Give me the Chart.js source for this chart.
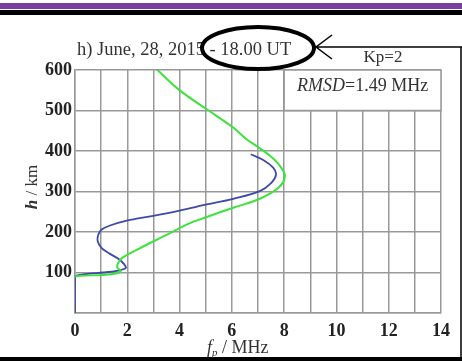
<!DOCTYPE html>
<html>
<head>
<meta charset="utf-8">
<script src="https://cdn.jsdelivr.net/npm/chart.js@4.4.1/dist/chart.umd.min.js"></script>
<style>
  html, body { margin: 0; padding: 0; background: #fff; }
  canvas { display: block; }
</style>
</head>
<body>
<canvas id="chart" width="462" height="361"></canvas>
<script>
// measured profile (blue) and model profile (green): plasma frequency vs height
const blueFreq   = [0, 0, 0.19, 0.57, 1.08, 1.6, 1.85, 1.95, 1.72, 1.34, 1.02, 0.87, 0.89, 1.02, 1.34, 1.98, 2.99, 4.0, 5.04, 6.05, 7.07, 7.52, 7.69, 7.58, 7.2, 6.72];
const blueHeight = [0, 89, 94, 97, 100, 104, 108, 113, 131, 146, 160, 177, 193, 206, 216, 228, 240, 253, 268, 282, 301, 322, 342, 359, 378, 392];

const greenFreq   = [0, 0.2, 1.08, 1.6, 1.75, 1.62, 1.64, 1.8, 2.36, 3.38, 4.4, 5.04, 6.05, 7.07, 7.78, 8.03, 7.84, 7.46, 6.95, 6.56, 6.05, 5.04, 4.02, 3.12];
const greenHeight = [90, 92, 94, 98, 104, 112, 122, 136, 156, 189, 222, 237, 260, 282, 309, 338, 363, 388, 412, 429, 458, 503, 549, 602];

const xTicksShown = [0, 2, 4, 6, 8, 10, 12, 14];
const yTicksShown = [100, 200, 300, 400, 500, 600];

const titleText = 'h) June, 28, 2015 - 18.00 UT';
const kpText = 'Kp=2';
const rmsdValue = '=1.49 MHz';

const SERIF = "'Liberation Serif', 'Times New Roman', serif";

const toPoints = (xs, ys) => xs.map((x, i) => ({ x: x, y: ys[i] }));

const decor = {
  id: 'decor',
  beforeDatasetsDraw(chart) {
    const ctx = chart.ctx, sx = chart.scales.x, sy = chart.scales.y;
    // RMSD box in upper right corner of the plot
    const l = sx.getPixelForValue(8), r = sx.getPixelForValue(14);
    const t = sy.getPixelForValue(600), b = sy.getPixelForValue(500);
    ctx.save();
    ctx.fillStyle = '#fff';
    ctx.fillRect(l, t, r - l, b - t);
    ctx.strokeStyle = '#999';
    ctx.lineWidth = 1.5;
    ctx.strokeRect(l, t, r - l, b - t);
    ctx.fillStyle = '#333';
    ctx.textBaseline = 'middle';
    ctx.font = 'italic 18px ' + SERIF;
    const w1 = ctx.measureText('RMSD').width;
    ctx.font = '18px ' + SERIF;
    const w2 = ctx.measureText(rmsdValue).width;
    let x0 = (l + r) / 2 - (w1 + w2) / 2;
    const yc = (t + b) / 2 - 4;
    ctx.font = 'italic 18px ' + SERIF;
    ctx.fillText('RMSD', x0, yc);
    ctx.font = '18px ' + SERIF;
    ctx.fillText(rmsdValue, x0 + w1, yc);
    ctx.restore();
  },
  afterDraw(chart) {
    const ctx = chart.ctx;
    ctx.save();

    // header bands
    ctx.fillStyle = '#7a3c9e';
    ctx.fillRect(0, 3, 462, 6);
    ctx.fillStyle = '#000';
    ctx.fillRect(0, 10, 462, 5);

    // title and Kp
    ctx.fillStyle = '#333';
    ctx.textBaseline = 'middle';
    ctx.font = '18.5px ' + SERIF;
    ctx.textAlign = 'left';
    ctx.fillText(titleText, 77, 50);
    ctx.textAlign = 'center';
    ctx.font = '17px ' + SERIF;
    ctx.fillText(kpText, 383, 58);

    // ellipse around the time
    ctx.strokeStyle = '#000';
    ctx.lineWidth = 4;
    ctx.beginPath();
    ctx.ellipse(258, 48, 56, 21, 0, 0, Math.PI * 2);
    ctx.stroke();

    // arrow pointing at the ellipse
    ctx.lineWidth = 1.5;
    ctx.beginPath();
    ctx.moveTo(316, 47);
    ctx.lineTo(462, 47);
    ctx.moveTo(332, 35);
    ctx.lineTo(316, 47);
    ctx.lineTo(332, 59);
    ctx.stroke();

    // frame lines at right and bottom
    ctx.beginPath();
    ctx.moveTo(461, 47);
    ctx.lineTo(461, 358);
    ctx.stroke();
    ctx.fillStyle = '#000';
    ctx.fillRect(0, 357, 462, 4);

    // y axis title: h / km
    ctx.fillStyle = '#333';
    ctx.save();
    ctx.translate(33, 187);
    ctx.rotate(-Math.PI / 2);
    ctx.textAlign = 'left';
    ctx.font = 'italic bold 17px ' + SERIF;
    const hw = ctx.measureText('h').width;
    ctx.font = '17px ' + SERIF;
    const rw = ctx.measureText(' / km').width;
    ctx.font = 'italic bold 17px ' + SERIF;
    ctx.fillText('h', -(hw + rw) / 2, 0);
    ctx.font = '17px ' + SERIF;
    ctx.fillText(' / km', -(hw + rw) / 2 + hw, 0);
    ctx.restore();

    // x axis title: f_p / MHz
    ctx.textAlign = 'left';
    let xx = 207;
    ctx.font = 'italic 18px ' + SERIF;
    ctx.fillText('f', xx, 348);
    xx += ctx.measureText('f').width;
    ctx.font = 'italic 11px ' + SERIF;
    ctx.fillText('p', xx, 353);
    xx += ctx.measureText('p').width;
    ctx.font = '18px ' + SERIF;
    ctx.fillText(' / MHz', xx, 348);

    ctx.restore();
  }
};

new Chart(document.getElementById('chart'), {
  type: 'scatter',
  data: {
    datasets: [
      {
        data: toPoints(greenFreq, greenHeight),
        showLine: true,
        borderColor: '#3de23d',
        borderWidth: 2,
        pointRadius: 0,
        tension: 0.35
      },
      {
        data: toPoints(blueFreq, blueHeight),
        showLine: true,
        borderColor: '#3d4aa6',
        borderWidth: 1.8,
        pointRadius: 0,
        tension: 0.35
      }
    ]
  },
  options: {
    responsive: false,
    animation: false,
    layout: { padding: { left: 0, right: 21, top: 70, bottom: 0 } },
    plugins: { legend: { display: false }, tooltip: { enabled: false } },
    scales: {
      x: {
        type: 'linear',
        min: 0, max: 14,
        afterFit: s => { s.height = 48; },
        grid: { color: '#999', lineWidth: 1.5, drawTicks: false },
        border: { color: '#999', width: 1.5 },
        ticks: {
          stepSize: 1,
          padding: 8,
          color: '#222',
          font: { family: SERIF, size: 18, weight: 'bold' },
          callback: v => xTicksShown.includes(v) ? String(v) : ''
        }
      },
      y: {
        type: 'linear',
        min: 0, max: 600,
        afterFit: s => { s.width = 75; },
        grid: { color: '#999', lineWidth: 1.5, drawTicks: false },
        border: { color: '#999', width: 1.5 },
        ticks: {
          stepSize: 100,
          padding: 3,
          color: '#222',
          font: { family: SERIF, size: 18, weight: 'bold' },
          callback: v => yTicksShown.includes(v) ? String(v) : ''
        }
      }
    }
  },
  plugins: [decor]
});
</script>
</body>
</html>
